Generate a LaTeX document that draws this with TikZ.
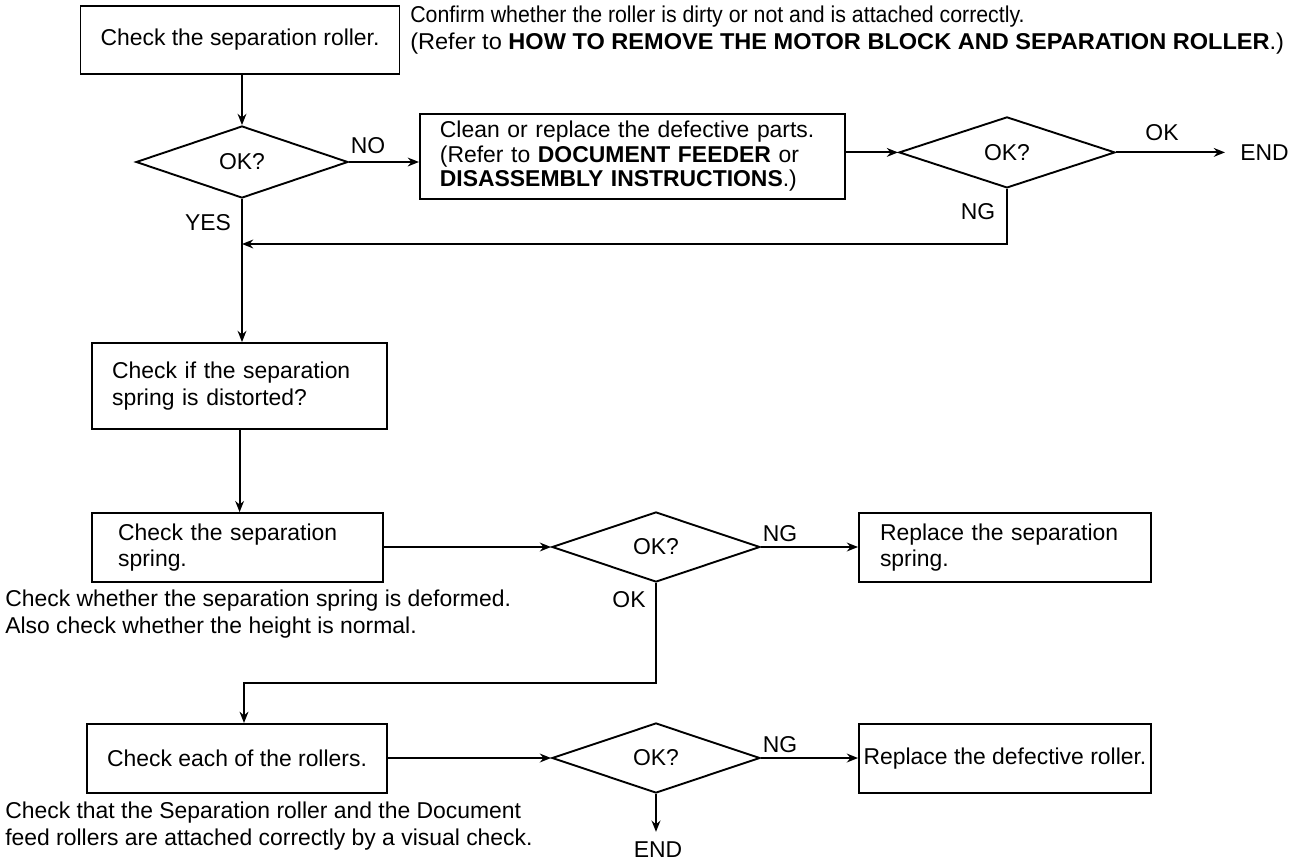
\documentclass[tikz,border=0pt]{standalone}
\usepackage{fontspec}
\setmainfont{Liberation Sans}
\usetikzlibrary{positioning,arrows.meta,shapes.geometric}

\newcommand{\fsz}{\fontsize{16.3pt}{19pt}\selectfont}

\begin{document}
\begin{tikzpicture}[
  box/.style  = {draw, line width=1.35pt, minimum height=17.25mm, inner xsep=5mm, font=\fsz},
  lbox/.style = {box, align=left},
  dia/.style  = {draw, diamond, line width=1.35pt, minimum width=53mm, minimum height=18mm, inner sep=0pt, font=\fsz},
  lab/.style  = {font=\fsz, inner sep=0pt},
  note/.style = {font=\fsz, align=left, anchor=west, inner sep=0pt},
  arr/.style  = {-{Stealth[length=2.8mm, width=2.2mm]}, line width=1.3pt},
  line/.style = {line width=1.3pt}
]
\useasboundingbox (0,0) rectangle (324mm,-215.25mm);

% ================= top: separation roller =================
\node[box, minimum width=73.75mm, minimum height=17mm] (B1) at (60mm,-10mm) {Check the separation roller.};
\node[note] (N1) at (102.5mm,-7.5mm) {\fontsize{16.3pt}{19.5pt}\selectfont
  \scalebox{0.93}[1]{Confirm whether the roller is dirty or not and is attached correctly.}\\
  \scalebox{1.028}[1]{(Refer to \textbf{HOW TO REMOVE THE MOTOR BLOCK AND SEPARATION ROLLER}.)}};

\node[dia] (D1) at (60.5mm,-40.5mm) {OK?};
\node[lbox, minimum width=106.25mm, minimum height=21.25mm, text width=96.25mm, font=\fontsize{16.3pt}{17.5pt}\selectfont] (B2) at (158.1mm,-39.1mm)
  {Clean or replace the defective parts.\\(Refer to \textbf{DOCUMENT FEEDER} or\\\textbf{DISASSEMBLY INSTRUCTIONS}.)};
\node[dia, minimum width=54mm, minimum height=17.75mm] (D2) at (251.75mm,-38.1mm) {OK?};
\node[lab, anchor=west] (END1) at (310mm,-38.1mm) {END};

\node[lab] (no)  at (92mm,-36.5mm)    {NO};
\node[lab] (yes) at (52mm,-55.75mm)   {YES};
\node[lab] (ok1) at (290.5mm,-33.25mm) {OK};
\node[lab] (ng1) at (244.5mm,-53mm)   {NG};
\coordinate (merge) at (60.5mm,-61mm);

\draw[arr] (B1.south -| D1.north) -- (D1.north);
\draw[arr] (D1.east) -- (D1.east -| B2.west);
\draw[arr] (B2.east |- D2.west) -- (D2.west);
\draw[arr, shorten >=3.75mm] (D2.east) -- (END1.west);
\draw[arr] (D2.south) |- (merge);

% ================= middle: separation spring =================
\node[lbox, minimum width=73.75mm, minimum height=21.5mm, text width=63.75mm] (B3) at (59.9mm,-96.5mm)
  {Check if the separation\\spring is distorted?};
\node[lbox, minimum width=72.75mm, inner xsep=6.5mm, text width=59.75mm] (B4) at (59.4mm,-136.9mm)
  {Check the separation\\spring.};
\node[note] (N2) at (1.25mm,-153.5mm) {Check whether the separation spring is deformed.\\Also check whether the height is normal.};

\node[dia, minimum width=52mm, minimum height=17.5mm] (D3) at (164mm,-136.75mm) {OK?};
\node[lbox, minimum width=73mm, inner xsep=5.25mm, text width=62.5mm] (B5) at (251.25mm,-136.9mm)
  {Replace the separation\\spring.};
\node[lab] (ng2) at (195mm,-133.5mm)    {NG};
\node[lab] (ok2) at (157.25mm,-150mm)   {OK};
\coordinate (turn) at (61mm,-170.75mm);

\draw[arr] (D1.south) -- (D1.south |- B3.north);
\draw[arr] (B3.south) -- (B3.south |- B4.north);
\draw[arr] (B4.east |- D3.west) -- (D3.west);
\draw[arr] (D3.east) -- (D3.east -| B5.west);

% ================= bottom: each roller =================
\node[box, minimum width=73mm] (B7) at (59.25mm,-189.6mm) {Check each of the rollers.};
\node[note] (N3) at (1.25mm,-206.5mm) {Check that the Separation roller and the Document\\feed rollers are attached correctly by a visual check.};
\node[dia, minimum width=52mm, minimum height=17.5mm] (D4) at (164mm,-189.5mm) {OK?};
\node[box, minimum width=73mm, inner xsep=1mm] (B6) at (251.25mm,-189.6mm) {Replace the defective roller.};
\node[lab] (ng3) at (195mm,-186.25mm) {NG};
\node[lab] (END2) at (164.5mm,-212.5mm) {END};

\draw[arr] (D3.south) |- (turn) -- (turn |- B7.north);
\draw[arr] (B7.east |- D4.west) -- (D4.west);
\draw[arr] (D4.east) -- (D4.east -| B6.west);
\draw[arr, shorten >=2.5mm] (D4.south) -- (D4.south |- END2.north);

\end{tikzpicture}
\end{document}
